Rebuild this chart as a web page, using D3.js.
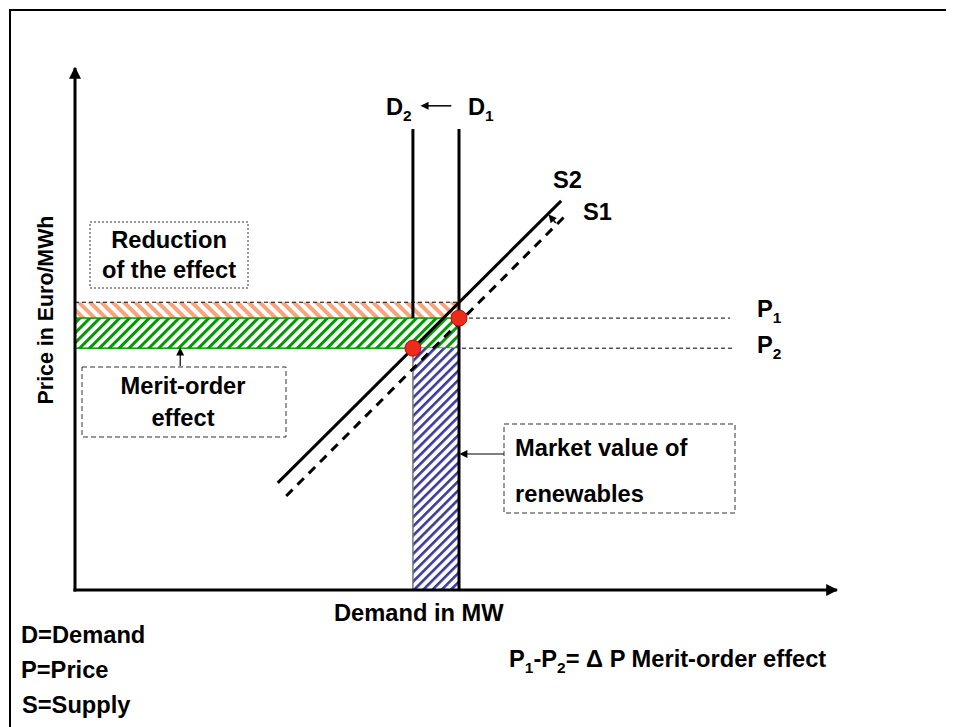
<!DOCTYPE html>
<html>
<head>
<meta charset="utf-8">
<script src="https://cdn.jsdelivr.net/npm/d3@7"></script>
<style>
  body { margin: 0; background: #fff; }
  text { font-family: "Liberation Sans", Arial, sans-serif; font-weight: bold; fill: #000; }
</style>
</head>
<body>
<svg id="chart" width="957" height="727"></svg>
<script>
// Données du schéma (unités arbitraires 0-100)
const demandLabels = ["D1", "D2"];
const demandValues = [50, 44];          // D1, D2 (MW)
const demandTop = 87.3;                 // haut des droites de demande
const priceLabels = ["P1", "P2"];
const priceValues = [51.5, 45.8];       // P1, P2 (Euro/MWh)
const priceLineEnd = [85.3, 85.6];
const reductionTop = 54.5;              // S2 au niveau de D1
const supplyLabels = ["S2", "S1"];
const supplyS2 = [[26.4, 20.3], [63.3, 73.7]];
const supplyS1 = [[27.5, 17.8], [64.2, 71.4]];

const svg = d3.select("#chart");
const width = +svg.attr("width");
const height = +svg.attr("height");

const x = d3.scaleLinear().domain([0, 100]).range([75, 843]);
const y = d3.scaleLinear().domain([0, 100]).range([590, 62]);

const FS = 23, SX = 1.03, SUB = 15;

// Motifs hachurés
const defs = svg.append("defs");
function hatch(id, color, size, w, angle) {
  const p = defs.append("pattern")
    .attr("id", id)
    .attr("patternUnits", "userSpaceOnUse")
    .attr("width", size).attr("height", size)
    .attr("patternTransform", `rotate(${angle})`);
  p.append("rect").attr("width", size).attr("height", size).attr("fill", "#fff");
  p.append("rect").attr("x", 0).attr("width", w).attr("height", size).attr("fill", color);
}
hatch("hGreen", "#009a00", 7, 3, 45);
hatch("hBlue", "#3a3a9e", 6.5, 2.6, 45);
hatch("hOrange", "#f6a47c", 8, 4, -45);

defs.append("marker")
  .attr("id", "arrow")
  .attr("viewBox", "0 0 10 10")
  .attr("refX", 9).attr("refY", 5)
  .attr("markerWidth", 4).attr("markerHeight", 4)
  .attr("markerUnits", "strokeWidth")
  .attr("orient", "auto")
  .append("path").attr("d", "M0,0 L10,5 L0,10 Z").attr("fill", "#000");
defs.append("marker")
  .attr("id", "arrowBig")
  .attr("viewBox", "0 0 10 10")
  .attr("refX", 8).attr("refY", 5)
  .attr("markerWidth", 10).attr("markerHeight", 8)
  .attr("markerUnits", "userSpaceOnUse")
  .attr("orient", "auto")
  .append("path").attr("d", "M0,0 L10,5 L0,10 Z").attr("fill", "#000");

// Cadre
svg.append("path")
  .attr("d", `M10,${height} L10,10 L946,10`)
  .attr("fill", "none").attr("stroke", "#000").attr("stroke-width", 2);

// Fonction texte (police légèrement élargie), avec indices
function label(px, py, parts, anchor, rotate) {
  const t = svg.append("text")
    .attr("transform", rotate ? `translate(${px},${py}) rotate(-90) scale(0.93,1)`
                              : `translate(${px},${py}) scale(${SX},1)`)
    .attr("text-anchor", anchor || "start")
    .attr("font-size", FS);
  let shift = 0;
  parts.forEach(p => {
    if (typeof p === "string") {
      t.append("tspan").attr("dy", -shift).text(p);
      shift = 0;
    } else {
      t.append("tspan").attr("font-size", SUB).attr("dy", 6 - shift).text(p.sub);
      shift = 6;
    }
  });
  return t;
}

// Bande "Reduction of the effect" (orange)
svg.append("rect")
  .attr("x", x(0)).attr("y", y(reductionTop))
  .attr("width", x(demandValues[0]) - x(0))
  .attr("height", y(priceValues[0]) - y(reductionTop))
  .attr("fill", "url(#hOrange)");
svg.append("line")
  .attr("x1", x(0)).attr("x2", x(demandValues[0]))
  .attr("y1", y(reductionTop)).attr("y2", y(reductionTop))
  .attr("stroke", "#000").attr("stroke-width", 1).attr("stroke-dasharray", "4,3");

// Bande "Merit-order effect" (verte)
svg.append("rect")
  .attr("x", x(0)).attr("y", y(priceValues[0]))
  .attr("width", x(demandValues[0]) - x(0))
  .attr("height", y(priceValues[1]) - y(priceValues[0]))
  .attr("fill", "url(#hGreen)")
  .attr("stroke", "#009a00").attr("stroke-width", 1.5);

// Surface "Market value of renewables" (bleue)
svg.append("rect")
  .attr("x", x(demandValues[1])).attr("y", y(priceValues[1]))
  .attr("width", x(demandValues[0]) - x(demandValues[1]))
  .attr("height", y(0) - y(priceValues[1]))
  .attr("fill", "url(#hBlue)");
svg.append("line")
  .attr("x1", x(demandValues[1])).attr("x2", x(demandValues[1]))
  .attr("y1", y(priceValues[1])).attr("y2", y(0))
  .attr("stroke", "#777").attr("stroke-width", 1.5);

// Lignes de prix P1, P2
priceValues.forEach((p, i) => {
  svg.append("line")
    .attr("x1", x(demandValues[0]) + 3).attr("x2", x(priceLineEnd[i]))
    .attr("y1", y(p)).attr("y2", y(p))
    .attr("stroke", "#000").attr("stroke-width", 1).attr("stroke-dasharray", "4,3");
  label(757, y(p) + (i === 0 ? -1 : 5), [priceLabels[i][0], { sub: priceLabels[i][1] }]);
});

// Droites de demande
svg.append("line")
  .attr("x1", x(demandValues[0])).attr("x2", x(demandValues[0]))
  .attr("y1", y(demandTop)).attr("y2", y(0))
  .attr("stroke", "#000").attr("stroke-width", 3);
svg.append("line")
  .attr("x1", x(demandValues[1])).attr("x2", x(demandValues[1]))
  .attr("y1", y(demandTop)).attr("y2", y(priceValues[0]))
  .attr("stroke", "#000").attr("stroke-width", 3);
label(386, 115, ["D", { sub: "2" }]);
label(468, 115, ["D", { sub: "1" }]);
svg.append("line")
  .attr("x1", x(49)).attr("x2", x(45.2))
  .attr("y1", y(91.7)).attr("y2", y(91.7))
  .attr("stroke", "#000").attr("stroke-width", 1.5)
  .attr("marker-end", "url(#arrowBig)");

// Courbes d'offre
const line = d3.line().x(d => x(d[0])).y(d => y(d[1]));
svg.append("path").attr("d", line(supplyS2))
  .attr("fill", "none").attr("stroke", "#000").attr("stroke-width", 3);
svg.append("path").attr("d", line(supplyS1))
  .attr("fill", "none").attr("stroke", "#000").attr("stroke-width", 3)
  .attr("stroke-dasharray", "9,7");
label(553, 188, [supplyLabels[0]]);
label(583, 220, [supplyLabels[1]]);
svg.append("line")
  .attr("x1", x(62.6)).attr("x2", x(61.8))
  .attr("y1", y(69.5)).attr("y2", y(70.9))
  .attr("stroke", "#000").attr("stroke-width", 1.5)
  .attr("marker-end", "url(#arrowBig)");

// Points d'équilibre
svg.selectAll(".eq")
  .data(priceValues)
  .enter()
  .append("circle")
  .attr("class", "eq")
  .attr("cx", (d, i) => x(demandValues[i]))
  .attr("cy", d => y(d))
  .attr("r", 8)
  .attr("fill", "#ee2a1b")
  .attr("stroke", "#b01005").attr("stroke-width", 1);

// Axes
const gx = svg.append("g")
  .attr("transform", `translate(0,${y(0)})`)
  .call(d3.axisBottom(x).ticks(0).tickSizeOuter(0));
const gy = svg.append("g")
  .attr("transform", `translate(${x(0)},0)`)
  .call(d3.axisLeft(y).ticks(0).tickSizeOuter(0));
gx.select(".domain").attr("stroke-width", 3).attr("marker-end", "url(#arrow)")
  .attr("d", `M${x(0) - 1.5},0H${x(100) - 6}`);
gy.select(".domain").attr("stroke-width", 3).attr("marker-end", "url(#arrow)")
  .attr("d", `M0,${y(0) + 1.5}V${y(100) + 6}`);

label(53, 310, ["Price in Euro/MWh"], "middle", true);
label(334, 621, ["Demand in MW"]);

// Encadrés
function box(x0, y0, x1, y1, dash) {
  svg.append("rect")
    .attr("x", x0).attr("y", y0).attr("width", x1 - x0).attr("height", y1 - y0)
    .attr("fill", "#fff").attr("stroke", "#333").attr("stroke-width", 1)
    .attr("stroke-dasharray", dash);
}
box(90, 222, 248, 288, "2,2");
label(169, 248, ["Reduction"], "middle");
label(169, 278, ["of the effect"], "middle");

box(82, 367, 286, 437, "5,3");
label(183, 394, ["Merit-order"], "middle");
label(183, 426, ["effect"], "middle");
svg.append("line")
  .attr("x1", x(13.7)).attr("x2", x(13.7))
  .attr("y1", 366).attr("y2", y(priceValues[1]) + 1)
  .attr("stroke", "#000").attr("stroke-width", 1.2)
  .attr("marker-end", "url(#arrowBig)");

box(504, 424, 735, 513, "5,3");
label(515, 456, ["Market value of"]);
label(515, 502, ["renewables"]);
svg.append("line")
  .attr("x1", 504).attr("x2", x(demandValues[0]) + 2)
  .attr("y1", 454).attr("y2", 454)
  .attr("stroke", "#000").attr("stroke-width", 1.2)
  .attr("marker-end", "url(#arrowBig)");

// Légende
label(21, 643, ["D=Demand"]);
label(21, 678, ["P=Price"]);
label(22, 713, ["S=Supply"]);
label(509, 667, ["P", { sub: "1" }, "-P", { sub: "2" }, "= Δ P Merit-order effect"]);
</script>
</body>
</html>
